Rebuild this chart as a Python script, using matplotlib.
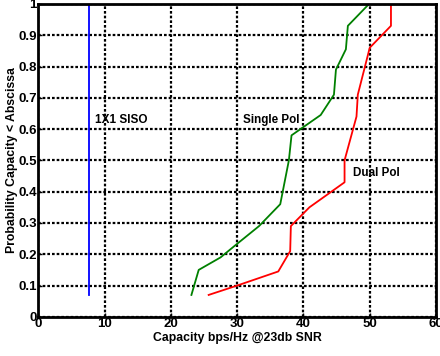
import matplotlib
matplotlib.use("Agg")
import matplotlib.pyplot as plt

plt.rcParams['font.family'] = ['Liberation Sans', 'DejaVu Sans']
plt.rcParams['font.weight'] = 'bold'

# CDF curves
siso_x = [7.6, 7.6]
siso_y = [0.07, 1.0]

single_x = [23.1, 24.2, 27.5, 29.8, 33.3, 36.5, 37.8, 38.2, 42.6, 44.6, 44.9, 46.4, 46.7, 49.9]
single_y = [0.07, 0.15, 0.19, 0.23, 0.29, 0.36, 0.50, 0.58, 0.645, 0.71, 0.79, 0.855, 0.93, 1.0]

dual_x = [25.7, 30.0, 36.2, 38.0, 38.1, 40.9, 46.2, 46.2, 48.0, 48.2, 50.0, 53.2, 53.2]
dual_y = [0.07, 0.10, 0.145, 0.21, 0.29, 0.35, 0.43, 0.50, 0.64, 0.71, 0.86, 0.93, 1.0]

xticks = [0, 10, 20, 30, 40, 50, 60]
yticks = [0, 0.1, 0.2, 0.3, 0.4, 0.5, 0.6, 0.7, 0.8, 0.9, 1]
ytick_labels = ['0', '0.1', '0.2', '0.3', '0.4', '0.5', '0.6', '0.7', '0.8', '0.9', '1']

fig = plt.figure(figsize=(4.4, 3.56), dpi=100)
ax = fig.add_axes([0.087, 0.11, 0.904, 0.879])

ax.plot(siso_x, siso_y, color='blue', lw=1.3)
ax.plot(single_x, single_y, color='green', lw=1.3)
ax.plot(dual_x, dual_y, color='red', lw=1.3)

ax.set_xlim(0, 60)
ax.set_ylim(0, 1)
ax.set_xticks(xticks)
ax.set_yticks(yticks)
ax.set_yticklabels(ytick_labels)
ax.grid(True, color='black', linestyle=(0, (1.2, 0.9)), linewidth=1.6)
for s in ax.spines.values():
    s.set_linewidth(2)
ax.tick_params(direction='in', length=3, width=1, labelsize=9.5, pad=1)

ax.set_xlabel('Capacity bps/Hz @23db SNR', fontsize=8.8, fontweight='bold', labelpad=1)
ax.set_ylabel('Probability Capacity < Abscissa', fontsize=8.8, fontweight='bold', labelpad=0)

ax.text(8.6, 0.62, '1X1 SISO', fontsize=8.5, fontweight='bold')
ax.text(30.9, 0.62, 'Single Pol', fontsize=8.4, fontweight='bold')
ax.text(47.4, 0.45, 'Dual Pol', fontsize=8.4, fontweight='bold')

fig.savefig('out.png', dpi=100)
